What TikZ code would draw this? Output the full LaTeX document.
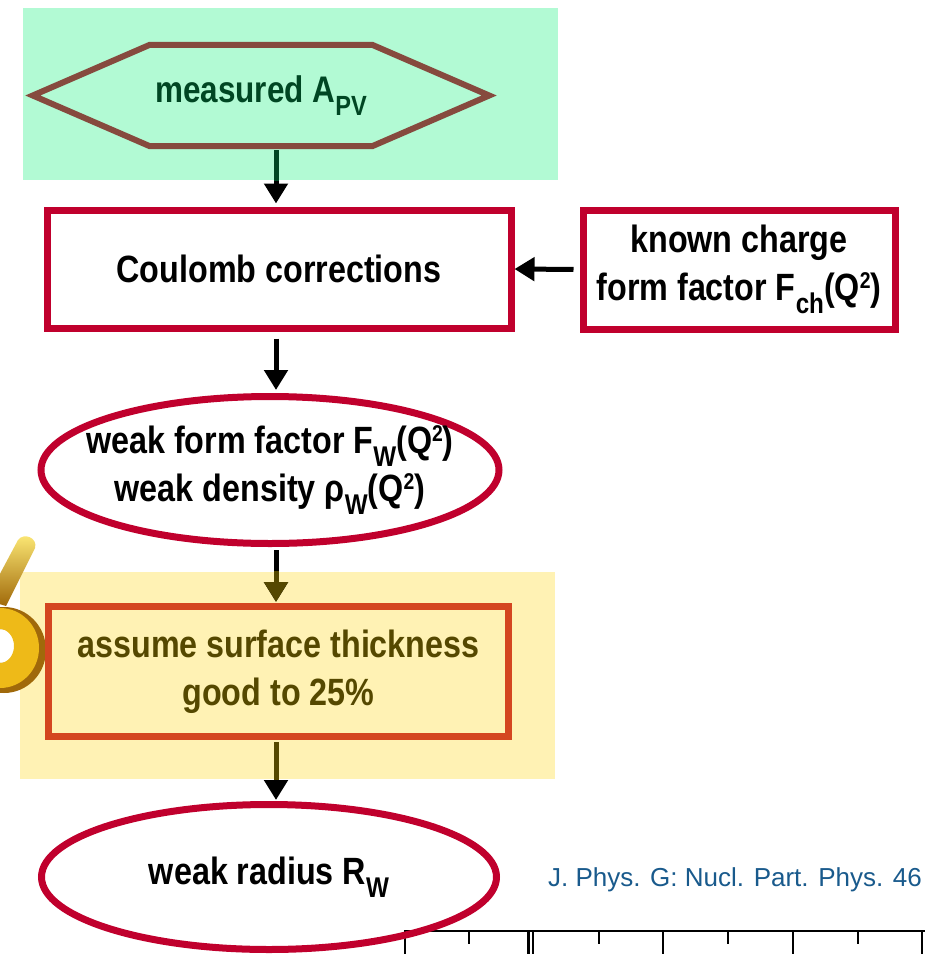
\documentclass[tikz,border=0pt]{standalone}
\usepackage{fontspec}
\setmainfont{Liberation Sans}[FakeStretch=0.85]
\newfontfamily\citefont{Liberation Sans}
\usetikzlibrary{shapes.geometric,arrows.meta}

\definecolor{boxred}{RGB}{192,0,45}
\definecolor{hexbrown}{RGB}{134,74,62}
\definecolor{mint}{RGB}{178,250,212}
\definecolor{hexgreen}{RGB}{0,70,35}
\definecolor{sand}{RGB}{255,242,180}
\definecolor{boxorange}{RGB}{212,70,32}
\definecolor{olive}{RGB}{85,72,0}
\definecolor{refblue}{RGB}{25,90,140}
\definecolor{gold}{RGB}{238,186,24}
\definecolor{golddark}{RGB}{160,105,10}
\definecolor{goldlight}{RGB}{255,236,120}

\newcommand{\lowsub}[1]{\raisebox{-0.33em}{\scalebox{0.75}{#1}}}
\newcommand{\highsup}[1]{\raisebox{0.32em}{\scalebox{0.6}{#1}}}

\begin{document}
\begin{tikzpicture}[x=1pt, y=-1pt,
  every node/.style={font=\fontsize{38}{48}\selectfont\bfseries, align=center, inner sep=0pt},
  box/.style={draw=boxred, line width=7pt, rectangle},
  oval/.style={draw=boxred, line width=7pt, ellipse},
  flow/.style={line width=5pt, -{Triangle[length=20pt,width=23pt]}}]

\useasboundingbox (0,0) rectangle (925,954);

% panels behind the first and fourth step
\node[fill=mint, minimum width=535pt, minimum height=172pt] (top) at (290.5,94) {};
\node[fill=sand, minimum width=535pt, minimum height=207pt] (mid) at (287.5,675.5) {};

% gold percent sign, cut by the left edge
\shade[top color=goldlight, bottom color=golddark] (-14,600) -- (18,540) .. controls (24,532) and (38,538) .. (35,548) -- (6,606) -- cycle;
\fill[golddark, even odd rule] (4,650) ellipse [x radius=42pt, y radius=43pt] (1,646) ellipse [x radius=14pt, y radius=17pt];
\fill[gold, even odd rule] (0,648) ellipse [x radius=39pt, y radius=40pt] (0,646) ellipse [x radius=14pt, y radius=17pt];

% scale at the bottom
\draw[line width=1.5pt] (405,956) -- (405,931) -- (927,931);
\foreach \x in {663,793,922}
  \draw[line width=1.5pt] (\x,931) -- (\x,956);
\foreach \x in {469,599,728,858}
  \draw[line width=1.5pt] (\x,931) -- (\x,944);
\draw[line width=3pt] (528,931) -- (528,956);
\draw[line width=1.5pt] (533,931) -- (533,956);

\node[text=hexgreen, font=\fontsize{37}{40}\selectfont\bfseries, minimum width=222pt, minimum height=101pt] (meas) at (261,95.5) {measured A\lowsub{PV}};
\draw[hexbrown, line width=6pt] (meas.north west) -- (meas.north east) -- ([xshift=117pt]meas.east)
  -- (meas.south east) -- (meas.south west) -- ([xshift=-117pt]meas.west) -- cycle;

\node[box, minimum width=464pt, minimum height=118pt] (coul) at (279,269) {Coulomb corrections};
\node[box, minimum width=312pt, minimum height=119pt] (known) at (739,269.5) {known charge\\form factor F\lowsub{ch}(Q\highsup{2})};

\node[oval, minimum width=458pt, minimum height=147pt] (wff) at (270,470) {};
\node (wfftext) at (wff) {weak form factor F\lowsub{W}(Q\highsup{2})\\weak density ρ\lowsub{W}(Q\highsup{2})};

\node[box, draw=boxorange, text=olive, minimum width=460pt, minimum height=130pt] (thick) at (278.5,671.5) {assume surface thickness\\good to 25\%};

\node[oval, minimum width=455pt, minimum height=145pt] (rad) at (269,877) {};
\node (radtext) at (rad) {weak radius R\lowsub{W}};

\node[text=refblue, font=\citefont\fontsize{26}{30}\selectfont] (cite) at (735,880) {J. Phys. G: Nucl. Part. Phys. 46};

\coordinate (spine) at (276,0);
\draw[flow, shorten <=4pt, shorten >=3pt] (meas.south -| spine) -- (coul.north -| spine);
\draw[flow, shorten <=7pt, shorten >=3pt] (coul.south -| spine) -- (wff.north -| spine);
\draw[flow, shorten <=3pt, shorten >=1pt] (wff.south -| spine) -- (thick.north -| spine);
\draw[flow, shorten <=2pt, shorten >=1pt] (thick.south -| spine) -- (rad.north -| spine);
\draw[flow, shorten <=6pt] (known.west) -- (coul.east);

% arrows take the panel tint where they cross it
\begin{scope}
  \clip (top.north west) rectangle (top.south east);
  \draw[flow, draw=hexgreen, shorten <=4pt, shorten >=3pt] (meas.south -| spine) -- (coul.north -| spine);
\end{scope}
\begin{scope}
  \clip (mid.north west) rectangle (mid.south east);
  \draw[flow, draw=olive, shorten <=3pt, shorten >=1pt] (wff.south -| spine) -- (thick.north -| spine);
  \draw[flow, draw=olive, shorten <=2pt, shorten >=1pt] (thick.south -| spine) -- (rad.north -| spine);
\end{scope}
\end{tikzpicture}
\end{document}
